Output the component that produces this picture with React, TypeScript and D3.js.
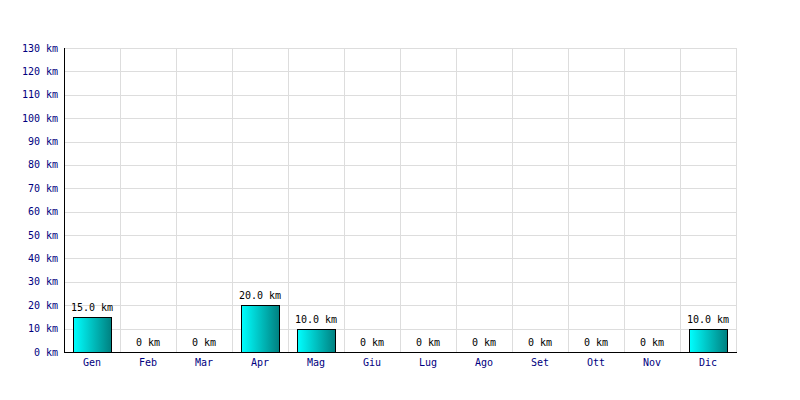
import React from "react";
import * as d3 from "d3";

const months = ["Gen", "Feb", "Mar", "Apr", "Mag", "Giu", "Lug", "Ago", "Set", "Ott", "Nov", "Dic"];
const values = [15, 0, 0, 20, 10, 0, 0, 0, 0, 0, 0, 10];
const yTicks = [0, 10, 20, 30, 40, 50, 60, 70, 80, 90, 100, 110, 120, 130];

const W = 800, H = 400;
const L = 64, R = 736, T = 48, B = 352;
const font = "'DejaVu Sans Mono', monospace";

export default function App() {
  const x = d3.scaleBand<string>().domain(months).range([L, R]).paddingInner(0).paddingOuter(0);
  const y = d3.scaleLinear().domain([0, 130]).range([B, T]);
  const bw = 38;
  const fmt = (v: number) => (v === 0 ? "0 km" : `${v.toFixed(1)} km`);
  return (
    <div style={{ position: "fixed", left: 0, top: 0 }}>
      <svg width={W} height={H} style={{ display: "block", background: "#fff" }}>
        <defs>
          <linearGradient id="bg" x1="0" x2="1" y1="0" y2="0">
            <stop offset="0" stopColor="#00ffff" />
            <stop offset="1" stopColor="#008080" />
          </linearGradient>
        </defs>
        <rect x={0} y={0} width={W} height={H} fill="#fff" />
        {yTicks.map((t) => (
          <line key={"h" + t} x1={L} x2={R} y1={Math.round(y(t)) + 0.5} y2={Math.round(y(t)) + 0.5} stroke="#dddddd" />
        ))}
        {months.map((m, i) => (
          <line key={"v" + m} x1={(x(m) as number) + x.bandwidth() + 0.5} x2={(x(m) as number) + x.bandwidth() + 0.5} y1={T} y2={B} stroke="#dddddd" />
        ))}
        {months.map((m, i) => {
          const cx = (x(m) as number) + x.bandwidth() / 2;
          const v = values[i];
          return (
            <g key={"b" + m}>
              {v > 0 && (
                <rect x={Math.round(cx - bw / 2) + 0.5} y={Math.round(y(v)) + 0.5} width={bw} height={Math.round(y(0)) - Math.round(y(v))} fill="url(#bg)" stroke="#000" />
              )}
              <text x={cx} y={y(v) - 6} textAnchor="middle" fontFamily={font} fontSize={10} fill="#000">{fmt(v)}</text>
              <text x={cx} y={366} textAnchor="middle" fontFamily={font} fontSize={10} fill="#000080">{m}</text>
            </g>
          );
        })}
        <line x1={L + 0.5} x2={L + 0.5} y1={T} y2={B + 0.5} stroke="#000" />
        <line x1={L} x2={R + 1} y1={B + 0.5} y2={B + 0.5} stroke="#000" />
        {yTicks.map((t) => (
          <text key={"t" + t} x={58} y={y(t) + 3.5} textAnchor="end" fontFamily={font} fontSize={10} fill="#000080">{`${t} km`}</text>
        ))}
      </svg>
    </div>
  );
}
